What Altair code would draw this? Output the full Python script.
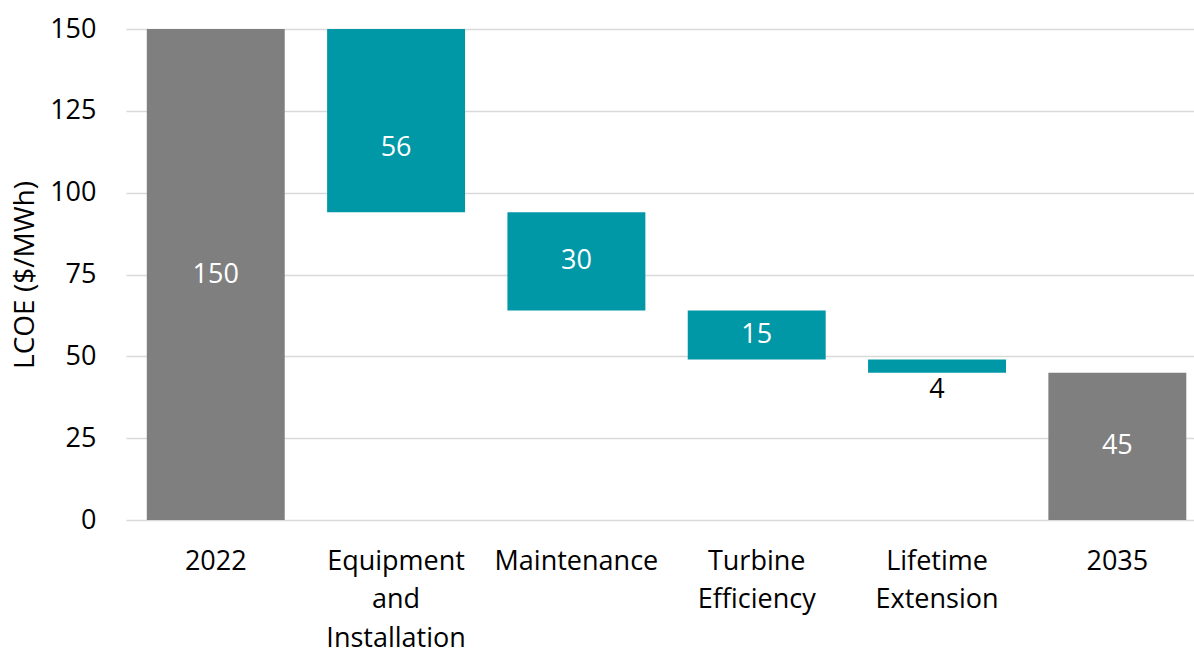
import altair as alt
import pandas as pd

categories = ["2022", "Equipment and Installation", "Maintenance", "Turbine Efficiency", "Lifetime Extension", "2035"]
kinds = ["total", "delta", "delta", "delta", "delta", "total"]
values = [150, -56, -30, -15, -4, 45]
# value (in $/MWh) at which each data label sits
label_at = [75, 113.5, 79, 56.5, 45, 22.5]

rows = []
running = 0
for cat, kind, v, la in zip(categories, kinds, values, label_at):
    if kind == "total":
        start, end = 0, v
        running = v
    else:
        start, end = running, running + v
        running = end
    rows.append({"cat": cat, "kind": kind, "start": start, "end": end,
                 "lab_y": la, "label": str(abs(v)),
                 "small": abs(end - start) < 8})
df = pd.DataFrame(rows)

FONT = "Open Sans"
FS = 27

x = alt.X("cat:N", sort=categories, title=None,
          scale=alt.Scale(paddingInner=0.235, paddingOuter=0.079, align=0.73),
          axis=alt.Axis(labelExpr="split(datum.label, ' ')", labelAngle=0,
                        labelFontSize=FS, labelFont=FONT, labelColor="#000000",
                        labelPadding=28, labelLineHeight=38.5, ticks=False, domain=False,
                        labelBaseline="top"))

bars = alt.Chart(df).mark_bar().encode(
    x=x,
    y=alt.Y("start:Q", title="LCOE ($/MWh)",
            scale=alt.Scale(domain=[0, 150], nice=False),
            axis=alt.Axis(values=[0, 25, 50, 75, 100, 125, 150], labelFontSize=FS,
                          labelFont=FONT, labelColor="#000000", labelPadding=30,
                          ticks=False, domain=False, gridColor="#d9d9d9", gridWidth=1.5,
                          titleFontSize=28, titleFont=FONT, titleFontWeight="normal",
                          titleColor="#000000", titlePadding=10)),
    y2="end:Q",
    color=alt.Color("kind:N", scale=alt.Scale(domain=["total", "delta"],
                                               range=["#7f7f7f", "#0097a7"]), legend=None),
)

inside = alt.Chart(df).transform_filter("!datum.small").mark_text(
    color="white", fontSize=FS, font=FONT, baseline="middle"
).encode(x=alt.X("cat:N", sort=categories), y=alt.Y("lab_y:Q"), text="label:N")

below = alt.Chart(df).transform_filter("datum.small").mark_text(
    color="black", fontSize=FS, font=FONT, baseline="top", dy=4
).encode(x=alt.X("cat:N", sort=categories), y=alt.Y("end:Q"), text="label:N")

chart = alt.layer(bars, inside, below).properties(
    width=1068, height=491,
    padding={"left": 126, "top": 29, "right": 0, "bottom": 134},
    autosize=alt.AutoSizeParams(type="none"),
).configure_view(stroke=None)

chart.save("out.html", embed_options={"renderer": "svg", "actions": False})
